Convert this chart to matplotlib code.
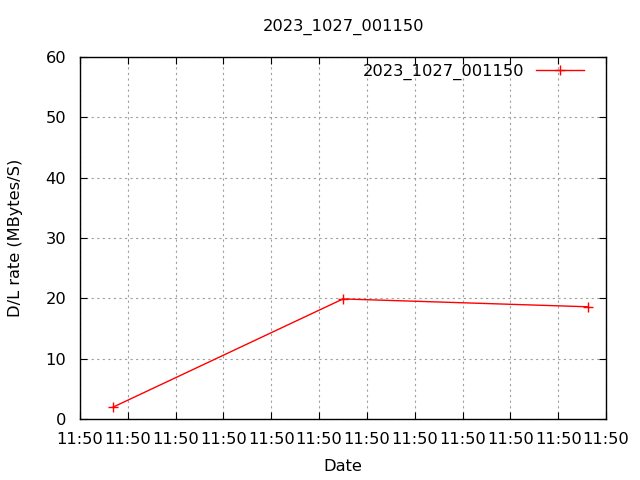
import matplotlib
matplotlib.use("Agg")
import matplotlib.pyplot as plt

title = "2023_1027_001150"
series_name = "2023_1027_001150"
# seconds after 11:50:00
times = [3.5, 27.5, 53.1]
rates = [2.0, 19.9, 18.6]
xtick_pos = [0, 5, 10, 15, 20, 25, 30, 35, 40, 45, 50, 55]
xtick_labels = ["11:50"] * 12
yticks = [0, 10, 20, 30, 40, 50, 60]

FS = 11.7
plt.rcParams['font.family'] = ['DejaVu Sans']
fig = plt.figure(figsize=(6.4, 4.8), dpi=100)
ax = fig.add_axes([80/640, 61/480, 526/640, 362/480])
ax.plot(times, rates, color='red', lw=1, marker='+', ms=6.5, mew=1, label=series_name)
ax.set_xlim(0, 55)
ax.set_ylim(0, 60)
ax.set_xticks(xtick_pos)
ax.set_xticklabels(xtick_labels)
ax.set_yticks(yticks)
ax.tick_params(direction='in', top=True, right=True, labelsize=FS, length=5, colors='black')
ax.tick_params(axis='x', pad=9)
ax.tick_params(axis='y', pad=10)
ax.grid(True, color='#a0a0a0', linestyle=(0, (2, 3)), lw=0.8)
for s in ax.spines.values():
    s.set_linewidth(1)
ax.set_xlabel("Date", fontsize=FS, labelpad=9)
ax.set_ylabel("D/L rate (MBytes/S)", fontsize=FS, labelpad=16)
fig.suptitle(title, fontsize=FS, x=343/640, y=1-27/480, va='center')
leg = ax.legend(loc='upper right', frameon=False, fontsize=FS, markerfirst=False,
                handlelength=3.0, borderaxespad=0.2, handletextpad=0.7,
                bbox_to_anchor=(1 - 12/526, 1 + 3/362))
fig.savefig("out.png", dpi=100)
